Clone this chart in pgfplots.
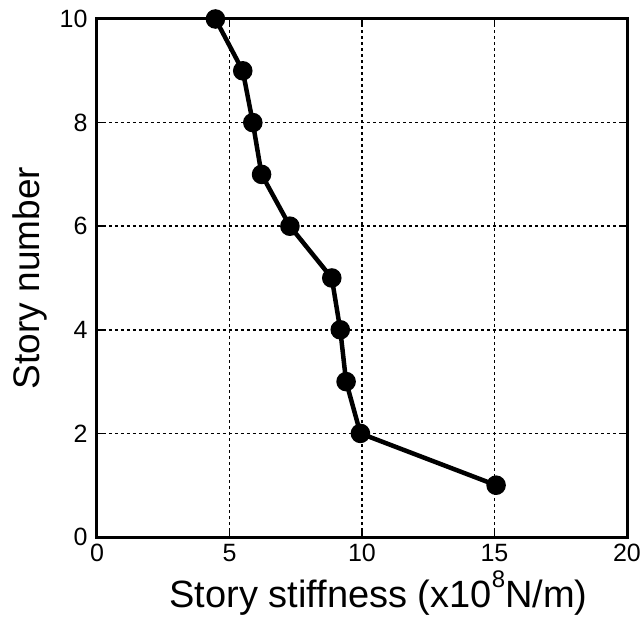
\documentclass[border=0pt]{standalone}
\usepackage{pgfplots}
\pgfplotsset{compat=1.18}
\usepackage{fontspec}
\setmainfont{Liberation Sans}
\begin{document}
\begin{tikzpicture}
\begin{axis}[
  name=ax,
  scale only axis,
  width=530pt, height=518pt,
  xmin=0, xmax=20, ymin=0, ymax=10,
  xtick={0,5,10,15,20},
  ytick={0,2,4,6,8,10},
  /pgf/number format/assume math mode=true,
  tick label style={font=\fontsize{25}{30}\selectfont},
  xticklabel style={yshift=-4pt},
  yticklabel style={xshift=-6pt},
  label style={font=\fontsize{37}{42}\selectfont},
  xlabel={Story stiffness (x10\raisebox{20pt}{\fontsize{24}{28}\selectfont 8}N/m)},
  ylabel={Story number},
  xlabel style={at={(axis description cs:0.531,-0.137)}, anchor=base, font=\fontsize{38}{42}\selectfont},
  ylabel style={at={(axis description cs:-0.126,0.5)}, anchor=center},
  axis line style={line width=3pt},
  tick style={line width=1.5pt, black},
  major tick length=6pt,
  tick align=inside,
  grid=major,
  major grid style={black, line width=1.5pt, dash pattern=on 3pt off 3pt},
]
\addplot[black, line width=4.5pt, mark=*, mark size=7.5pt, mark options={solid}] coordinates {
(4.47,10) (5.50,9) (5.88,8) (6.21,7) (7.28,6) (8.86,5) (9.18,4) (9.40,3) (9.94,2) (15.06,1)
};
\end{axis}
\pgfresetboundingbox
\path (ax.south west) ++(-97pt,-87pt) rectangle ++(643pt,624pt);
\end{tikzpicture}
\end{document}
